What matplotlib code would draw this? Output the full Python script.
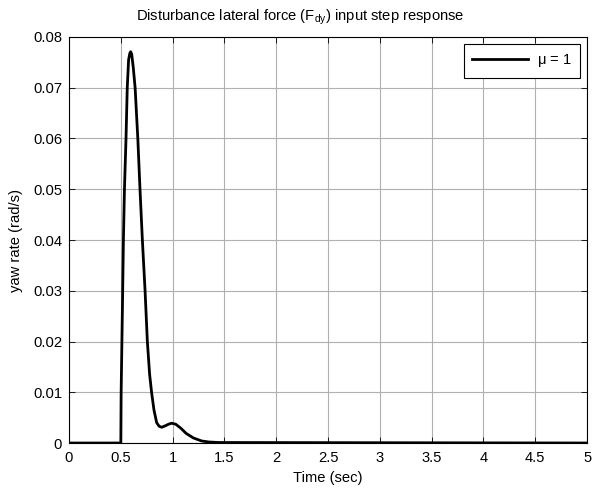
import numpy as np
import matplotlib
matplotlib.use('Agg')
import matplotlib.pyplot as plt

plt.rcParams['font.family'] = ['Liberation Sans', 'DejaVu Sans']
plt.rcParams['mathtext.default'] = 'regular'

# step response
t = [0, 0.5, 0.503, 0.515, 0.525, 0.535, 0.55, 0.562, 0.575, 0.587, 0.595, 0.605,
     0.62, 0.638, 0.664, 0.685, 0.708, 0.734, 0.756, 0.778, 0.798, 0.82, 0.846,
     0.87, 0.895, 0.93, 0.96, 0.99, 1.03, 1.08, 1.13, 1.2, 1.28, 1.35, 1.45, 5.0]
yaw = [0, 0, 0.010, 0.026, 0.040, 0.050, 0.060, 0.070, 0.0755, 0.0768, 0.0771, 0.0766,
       0.074, 0.070, 0.060, 0.050, 0.040, 0.030, 0.020, 0.0135, 0.0098, 0.0065, 0.0040,
       0.0033, 0.0031, 0.0034, 0.0037, 0.0039, 0.0037, 0.0029, 0.0019, 0.0010, 0.0004,
       0.0002, 0.0001, 0.0]

xticks = [0, 0.5, 1, 1.5, 2, 2.5, 3, 3.5, 4, 4.5, 5]
xticklabels = ['0', '0.5', '1', '1.5', '2', '2.5', '3', '3.5', '4', '4.5', '5']
yticks = [0, 0.01, 0.02, 0.03, 0.04, 0.05, 0.06, 0.07, 0.08]
yticklabels = ['0', '0.01', '0.02', '0.03', '0.04', '0.05', '0.06', '0.07', '0.08']

fs = 10.6
fig = plt.figure(figsize=(5.92, 4.9), dpi=100)
ax = fig.add_axes([0.1166, 0.0959, 0.8750, 0.8286])

ax.plot(t, yaw, color='black', lw=2.0, label=r'$\mu$ = 1')

ax.set_xlim(0, 5)
ax.set_ylim(0, 0.08)
ax.set_xticks(xticks)
ax.set_xticklabels(xticklabels)
ax.set_yticks(yticks)
ax.set_yticklabels(yticklabels)
ax.tick_params(direction='in', top=True, right=True, labelsize=fs, length=4, width=0.6)
ax.tick_params(axis='x', pad=6)
ax.tick_params(axis='y', pad=5)
ax.grid(True, color='#b0b0b0', lw=0.8)
for s in ax.spines.values():
    s.set_linewidth(0.8)

ax.set_xlabel('Time (sec)', fontsize=fs, labelpad=4)
ax.set_ylabel('yaw rate (rad/s)', fontsize=fs, labelpad=7)
ax.set_title(r'Disturbance lateral force (F$_{dy}$) input step response',
             fontsize=fs, pad=12, x=0.446)

leg = ax.legend(loc='upper right', fontsize=fs, handlelength=3.8, fancybox=False,
                framealpha=1, edgecolor='black', borderaxespad=0.5,
                borderpad=0.55, handletextpad=0.6)
leg.get_frame().set_linewidth(0.8)

fig.savefig('out.png', dpi=100)
